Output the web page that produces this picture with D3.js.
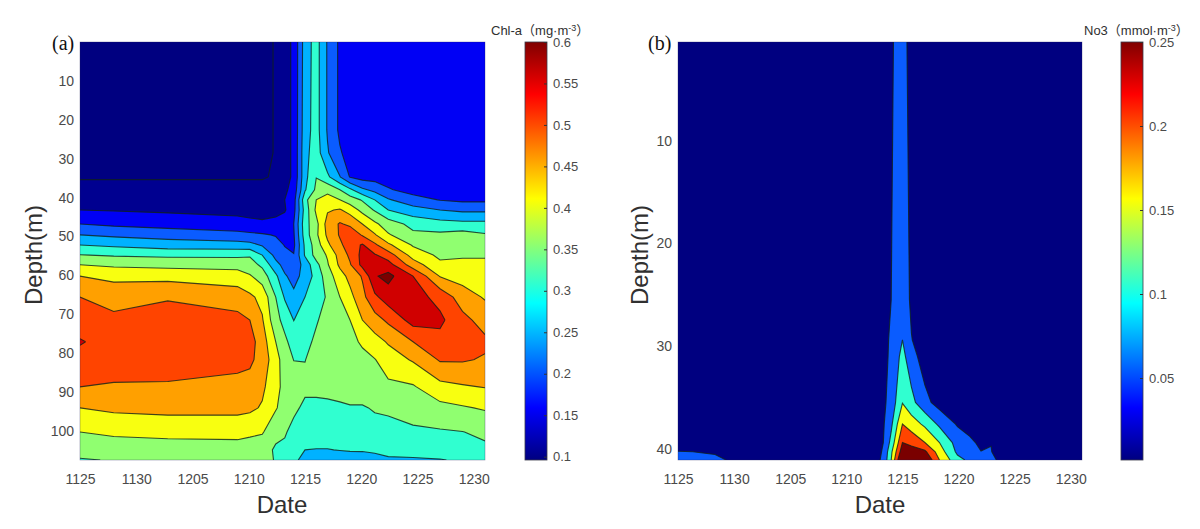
<!DOCTYPE html>
<html>
<head>
<meta charset="utf-8">
<script src="https://cdn.jsdelivr.net/npm/d3@7"></script>
<style>
html,body{margin:0;padding:0;background:#fff;}
svg{display:block;}
text{font-family:"Liberation Sans",Arial,"Noto Sans CJK SC",sans-serif;}
</style>
</head>
<body>
<svg id="chart" width="1200" height="529"></svg>
<script>
// ---------- shared tick labels ----------
const dateLabels = ["1125","1130","1205","1210","1215","1220","1225","1230"];
const dateTickDays = [0,5,10,15,20,25,30,35];

// ---------- panel (a) Chl-a ----------
const chlDays = [0,3,7.8,14,15.1,16.2,17.4,18.2,19,20,21,22,23.1,24,25.1,26.2,27.4,29.6,32,34,36];
const chlDepths = [0,22.6,28.5,34.7,38,40.6,43.2,46.8,49.6,52.2,54.8,57.3,60.2,65.6,71.5,77.1,81.7,88.7,94.1,100.3,104.9,107.5];
const chlValues = [
[.08,.08,.08,.08,.08,.08,.105,.13,.16,.275,.32,.245,.19,.178,.175,.173,.172,.17,.17,.17,.17],
[.08,.08,.08,.08,.08,.08,.105,.13,.16,.28,.32,.245,.19,.178,.175,.173,.172,.17,.17,.17,.17],
[.08,.08,.08,.08,.08,.08,.105,.13,.16,.285,.325,.255,.205,.18,.175,.173,.172,.17,.17,.17,.17],
[.096,.096,.096,.096,.096,.096,.105,.13,.16,.285,.349,.31,.252,.197,.18,.18,.175,.175,.175,.175,.175],
[.115,.115,.115,.115,.115,.115,.125,.14,.17,.295,.36,.385,.35,.31,.26,.235,.205,.18,.175,.175,.175],
[.135,.135,.135,.135,.135,.135,.14,.15,.18,.335,.40,.42,.40,.375,.345,.30,.255,.22,.198,.19,.19],
[.15,.147,.142,.135,.13,.128,.135,.145,.185,.32,.41,.445,.455,.43,.385,.345,.30,.27,.25,.24,.24],
[.2,.19,.18,.17,.165,.16,.165,.175,.2,.33,.385,.47,.505,.49,.45,.41,.375,.335,.32,.315,.315],
[.25,.24,.23,.215,.21,.205,.197,.18,.195,.325,.39,.46,.505,.535,.495,.455,.405,.36,.36,.37,.355],
[.3,.29,.275,.27,.265,.245,.215,.198,.19,.31,.375,.44,.49,.525,.555,.51,.46,.395,.38,.385,.375],
[.352,.345,.34,.34,.345,.30,.235,.21,.202,.305,.37,.405,.47,.51,.565,.555,.525,.43,.39,.395,.395],
[.4,.39,.385,.38,.37,.34,.265,.235,.215,.27,.335,.395,.46,.495,.565,.58,.57,.475,.41,.41,.41],
[.45,.44,.435,.425,.405,.375,.31,.255,.235,.265,.32,.375,.43,.465,.505,.595,.615,.55,.447,.43,.42],
[.5,.475,.495,.475,.46,.435,.35,.295,.26,.30,.33,.355,.40,.435,.485,.54,.575,.57,.535,.475,.445],
[.52,.515,.525,.515,.50,.455,.365,.335,.299,.325,.345,.37,.385,.40,.45,.48,.51,.57,.56,.515,.48],
[.555,.525,.53,.525,.52,.475,.40,.36,.33,.335,.36,.375,.385,.39,.405,.43,.455,.50,.535,.54,.51],
[.53,.525,.52,.515,.51,.48,.42,.375,.349,.349,.365,.375,.38,.39,.39,.398,.425,.455,.505,.505,.495],
[.5,.495,.495,.485,.48,.46,.415,.385,.375,.36,.365,.37,.375,.38,.38,.38,.39,.395,.435,.445,.452],
[.45,.46,.465,.465,.46,.445,.405,.375,.36,.34,.335,.335,.34,.345,.345,.355,.36,.375,.385,.395,.405],
[.40,.41,.415,.415,.41,.405,.36,.355,.335,.32,.315,.315,.32,.322,.325,.33,.33,.34,.345,.349,.36],
[.365,.37,.375,.38,.375,.365,.345,.34,.31,.30,.299,.299,.301,.303,.303,.305,.31,.315,.32,.33,.34],
[.347,.352,.36,.365,.36,.355,.349,.33,.31,.285,.28,.28,.285,.283,.285,.29,.295,.295,.298,.305,.315]
];
const chlLevels = [.1,.15,.2,.25,.3,.35,.4,.45,.5,.55,.6];
const chlDepthTicks = [10,20,30,40,50,60,70,80,90,100];
const chlBarTicks = [.1,.15,.2,.25,.3,.35,.4,.45,.5,.55,.6];

// ---------- panel (b) NO3 ----------
const no3Days = [0,3.3,5.1,17,18.3,19,20,20.8,22,23.3,24.9,26,27,27.9,28.6,36];
const no3Depths = [.39,25.5,29.4,31,35.5,37.6,39.4,40.3,41.1];
const no3Values = [
[.01,.01,.01,.01,.01,.045,.07,.03,.01,.01,.01,.01,.01,.01,.01,.01],
[.01,.01,.01,.01,.012,.05,.085,.04,.01,.01,.01,.01,.01,.01,.01,.01],
[.01,.01,.01,.012,.03,.06,.1,.052,.02,.01,.01,.01,.01,.01,.01,.01],
[.01,.01,.01,.012,.035,.06,.115,.07,.025,.012,.01,.01,.01,.01,.01,.01],
[.01,.01,.01,.015,.04,.07,.148,.115,.065,.03,.015,.01,.01,.01,.01,.01],
[.012,.01,.01,.015,.045,.09,.2,.175,.14,.09,.045,.03,.015,.01,.01,.01],
[.02,.015,.01,.015,.05,.115,.25,.235,.2,.15,.08,.06,.04,.048,.02,.01],
[.052,.047,.025,.015,.055,.14,.28,.275,.26,.175,.09,.065,.051,.053,.02,.01],
[.06,.056,.045,.015,.06,.15,.32,.32,.30,.2,.115,.09,.07,.06,.045,.01]
];
const no3Levels = [.05,.1,.15,.2,.25];
const no3DepthTicks = [10,20,30,40];
const no3BarTicks = [.05,.1,.15,.2,.25];

// ---------- styles ----------
const chlFills = ["#000080","#000090","#0000f5","#0a5cff","#00b2ff","#30ffd0","#90ff70","#f8ff10","#ffa000","#ff4400","#d00000","#7a0000"];
const no3Fills = ["#000080","#0a5cff","#30ffd0","#f8ff10","#ff4400","#7a0000"];
const jetStops = [[0,"#000080"],[.125,"#0000ff"],[.375,"#00ffff"],[.625,"#ffff00"],[.875,"#ff0000"],[1,"#800000"]];

const svg = d3.select("#chart");
const defs = svg.append("defs");
const grad = defs.append("linearGradient").attr("id","jet").attr("x1",0).attr("x2",0).attr("y1",1).attr("y2",0);
grad.selectAll("stop").data(jetStops).join("stop")
  .attr("offset",d=>d[0]).attr("stop-color",d=>d[1]);

function drawPanel(o){
  const {left,right,top,bottom}=o;
  const x=d3.scaleLinear().domain([0,36]).range([left,right]);
  const y=d3.scaleLinear().domain(o.depthDomain).range([top,bottom]);
  const nx=o.days.length, ny=o.depths.length;
  const dayAt=d3.scaleLinear().domain(d3.range(nx)).range(o.days).clamp(true);
  const depthAt=d3.scaleLinear().domain(d3.range(ny)).range(o.depths).clamp(true);
  const px=c=>x(dayAt(c-.5)), py=c=>y(depthAt(c-.5));
  const flat=o.values.flat();
  const contours=d3.contours().size([nx,ny]).thresholds(o.levels)(flat);

  const clipId="clip"+o.id;
  defs.append("clipPath").attr("id",clipId).append("rect")
    .attr("x",left).attr("y",top).attr("width",right-left).attr("height",bottom-top);
  const g=svg.append("g").attr("clip-path",`url(#${clipId})`);
  g.append("rect").attr("x",left).attr("y",top).attr("width",right-left).attr("height",bottom-top).attr("fill",o.fills[0]);

  const fillPath=c=>c.coordinates.map(poly=>poly.map(ring=>
      "M"+ring.map(p=>px(p[0]).toFixed(2)+","+py(p[1]).toFixed(2)).join("L")+"Z").join("")).join("");
  const near=(a,b)=>Math.abs(a-b)<.01;
  const onEdge=(a,b)=>(near(a[0],left)&&near(b[0],left))||(near(a[0],right)&&near(b[0],right))||
                      (near(a[1],top)&&near(b[1],top))||(near(a[1],bottom)&&near(b[1],bottom));
  const linePath=c=>{
    let s="";
    c.coordinates.forEach(poly=>poly.forEach(ring=>{
      let pen=false;
      const pts=ring.map(p=>[px(p[0]),py(p[1])]);
      for(let i=1;i<pts.length;i++){
        if(onEdge(pts[i-1],pts[i])){pen=false;continue;}
        if(!pen){s+="M"+pts[i-1][0].toFixed(2)+","+pts[i-1][1].toFixed(2);pen=true;}
        s+="L"+pts[i][0].toFixed(2)+","+pts[i][1].toFixed(2);
      }
    }));
    return s;
  };
  g.selectAll("path.fill").data(contours).join("path").attr("class","fill")
    .attr("d",fillPath).attr("fill",(d,i)=>o.fills[i+1]);
  g.selectAll("path.line").data(contours).join("path").attr("class","line")
    .attr("d",linePath).attr("fill","none").attr("stroke","#10201a").attr("stroke-opacity",.8).attr("stroke-width",1.1);

  // axes
  const xAxis=d3.axisBottom(x).tickValues(dateTickDays).tickFormat((d,i)=>dateLabels[i]).tickSize(0).tickPadding(14);
  const yAxis=d3.axisLeft(y).tickValues(o.depthTicks).tickSize(0).tickPadding(6);
  const ax=svg.append("g").attr("transform",`translate(0,${bottom})`).call(xAxis);
  const ay=svg.append("g").attr("transform",`translate(${left},0)`).call(yAxis);
  [ax,ay].forEach(a=>{a.select(".domain").remove();
    a.selectAll("text").attr("font-size",14).attr("fill","#4a4a4a").attr("font-family",'"Liberation Sans",Arial,sans-serif');});
  svg.append("rect").attr("x",left).attr("y",top).attr("width",right-left).attr("height",bottom-top)
    .attr("fill","none").attr("stroke","#20205a").attr("stroke-opacity",.5).attr("stroke-width",.6);

  svg.append("text").attr("x",o.dateX).attr("y",513).attr("text-anchor","middle")
    .attr("font-size",24).attr("fill","#303030").text("Date");
  svg.append("text").attr("transform",`translate(${o.depthX},255) rotate(-90)`).attr("text-anchor","middle")
    .attr("font-size",24).attr("fill","#303030").text("Depth(m)");
  svg.append("text").attr("x",o.tagX).attr("y",50).attr("font-size",20).attr("fill","#111")
    .style("font-family",'"Liberation Serif","Times New Roman",serif').text(o.tag);

  // colour bar
  const by=d3.scaleLinear().domain(o.barDomain).range([bottom,top]);
  svg.append("rect").attr("x",o.barX).attr("y",top).attr("width",22).attr("height",bottom-top)
    .attr("fill","url(#jet)").attr("stroke","#3a3a4a").attr("stroke-width",.8);
  const bAxis=d3.axisRight(by).tickValues(o.barTicks).tickFormat(d=>String(+d.toFixed(2))).tickSize(-3).tickPadding(6);
  const ab=svg.append("g").attr("transform",`translate(${o.barX+22},0)`).call(bAxis);
  ab.select(".domain").remove();
  ab.selectAll("line").attr("stroke","#333");
  ab.selectAll("text").attr("font-size",13).attr("fill","#4a4a4a").attr("font-family",'"Liberation Sans",Arial,sans-serif');

  const t=svg.append("text").attr("x",o.titleX).attr("y",35).attr("font-size",13).attr("fill","#303030");
  t.append("tspan").text(o.titleA);
  t.append("tspan").attr("font-size",9).attr("dy",-4).text("-3");
  t.append("tspan").attr("dy",4).text("）");
}

drawPanel({id:"a",left:80,right:485,top:42,bottom:460,days:chlDays,depths:chlDepths,values:chlValues,
  levels:chlLevels,fills:chlFills,depthDomain:[0,107.5],depthTicks:chlDepthTicks,
  barX:525,barDomain:[.096,.6],barTicks:chlBarTicks,dateX:282,depthX:42,tag:"(a)",tagX:52,
  titleX:491,titleA:"Chl-a（mg·m"});
drawPanel({id:"b",left:678,right:1082,top:42,bottom:460,days:no3Days,depths:no3Depths,values:no3Values,
  levels:no3Levels,fills:no3Fills,depthDomain:[.39,41.1],depthTicks:no3DepthTicks,
  barX:1121,barDomain:[.0012,.25],barTicks:no3BarTicks,dateX:880,depthX:648,tag:"(b)",tagX:648,
  titleX:1084,titleA:"No3（mmol·m"});
</script>
</body>
</html>
